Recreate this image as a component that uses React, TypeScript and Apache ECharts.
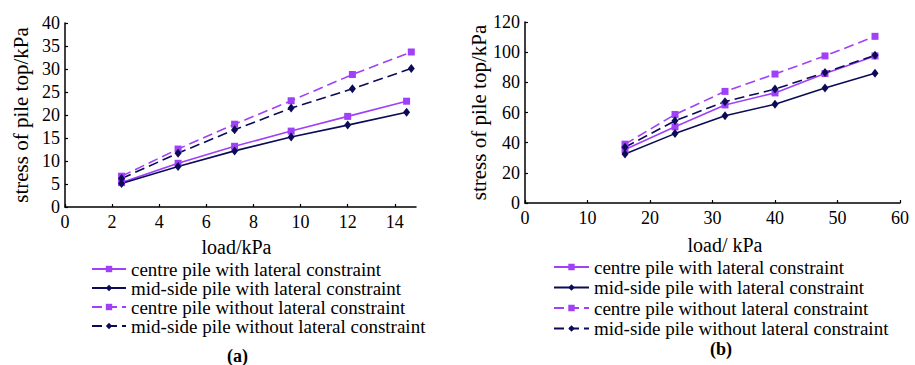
import React, { useEffect, useRef } from "react";
import * as echarts from "echarts";

const seriesNames = [
  "centre pile with lateral constraint",
  "mid-side pile with lateral constraint",
  "centre pile without lateral constraint",
  "mid-side pile without lateral constraint",
];

// Chart (a)
const loadA_solid = [2.4, 4.8, 7.2, 9.6, 12, 14.5];
const loadA_dashed = [2.4, 4.8, 7.2, 9.6, 12.2, 14.7];
const a_centreWith = [5.3, 9.5, 13.2, 16.5, 19.7, 23.0];
const a_midWith = [5.1, 8.8, 12.2, 15.2, 17.8, 20.6];
const a_centreWithout = [6.7, 12.6, 18.0, 23.1, 28.8, 33.7];
const a_midWithout = [6.2, 11.7, 16.8, 21.5, 25.7, 30.1];
const a_xTicks = [0, 2, 4, 6, 8, 10, 12, 14];

// Chart (b)
const loadB = [16, 24, 32, 40, 48, 56];
const b_centreWith = [35.5, 50.5, 65, 73, 85.8, 97.5];
const b_midWith = [32.5, 46, 57.8, 65.5, 76.3, 86];
const b_centreWithout = [39, 58.7, 74, 85.5, 97.5, 110.5];
const b_midWithout = [37, 54.5, 67.2, 75.5, 86.5, 98];

const PURPLE = "#A040F8";
const NAVY = "#0B0B58";
const FONT = "'Liberation Serif', 'Times New Roman', serif";

const zip = (xs: number[], ys: number[]) => xs.map((x, i) => [x, ys[i]]);

function mkSeries(name: string, idx: number, data: number[][], purple: boolean, dashed: boolean) {
  return {
    name,
    type: "line",
    xAxisIndex: idx,
    yAxisIndex: idx,
    data,
    symbol: purple ? "rect" : "diamond",
    symbolSize: purple ? 7 : [7, 9],
    showSymbol: true,
    color: purple ? PURPLE : NAVY,
    itemStyle: { color: purple ? PURPLE : NAVY },
    lineStyle: {
      color: purple ? PURPLE : NAVY,
      width: 1.6,
      type: dashed ? [10, 5] : "solid",
    },
  };
}

const axisCommon = {
  axisLine: { show: true, lineStyle: { color: "#000", width: 1.5 } },
  axisTick: { show: true, inside: true, length: 3, lineStyle: { color: "#000", width: 1.2 } },
  splitLine: { show: false },
  nameTextStyle: { fontFamily: FONT, fontSize: 20, color: "#000" },
};

export default function App() {
  const ref = useRef<HTMLDivElement>(null);
  useEffect(() => {
    if (!ref.current) return;
    const chart = echarts.init(ref.current, null, { renderer: "svg" });
    const labelStyle = { fontFamily: FONT, fontSize: 18, color: "#000" };
    const legendText = { fontFamily: FONT, fontSize: 19, lineHeight: 19, color: "#000" };
    chart.setOption({
      animation: false,
      textStyle: { fontFamily: FONT },
      grid: [
        { left: 65, top: 23, width: 351, height: 184 },
        { left: 525, top: 22, width: 375, height: 181 },
      ],
      xAxis: [
        {
          ...axisCommon,
          gridIndex: 0,
          type: "value",
          min: 0,
          max: 14.9,
          interval: 2,
          name: "load/kPa",
          nameLocation: "middle",
          nameGap: 30,
          nameTextStyle: { ...axisCommon.nameTextStyle, padding: [0, 8, 0, 0] },
          axisTick: { ...axisCommon.axisTick, customValues: a_xTicks },
          axisLabel: { ...labelStyle, margin: 6, customValues: a_xTicks },
        },
        {
          ...axisCommon,
          gridIndex: 1,
          type: "value",
          min: 0,
          max: 60,
          interval: 10,
          name: "load/ kPa",
          nameLocation: "middle",
          nameGap: 32,
          nameTextStyle: { ...axisCommon.nameTextStyle, padding: [0, 0, 0, 25] },
          axisLabel: { ...labelStyle, margin: 6 },
        },
      ],
      yAxis: [
        {
          ...axisCommon,
          gridIndex: 0,
          type: "value",
          min: 0,
          max: 40,
          interval: 5,
          name: "stress of pile top/kPa",
          nameLocation: "middle",
          nameGap: 34,
          nameTextStyle: { ...axisCommon.nameTextStyle, fontSize: 21 },
          axisLabel: { ...labelStyle, margin: 5 },
        },
        {
          ...axisCommon,
          gridIndex: 1,
          type: "value",
          min: 0,
          max: 120,
          interval: 20,
          name: "stress of pile top/kPa",
          nameLocation: "middle",
          nameGap: 34,
          nameTextStyle: { ...axisCommon.nameTextStyle, fontSize: 21 },
          axisLabel: { ...labelStyle, margin: 5 },
        },
      ],
      legend: [
        {
          orient: "vertical",
          left: 86,
          top: 254.5,
          itemWidth: 34,
          itemHeight: 8,
          itemGap: 0,
          selectedMode: false,
          textStyle: legendText,
          data: seriesNames,
        },
        {
          orient: "vertical",
          left: 548,
          top: 252.5,
          itemWidth: 35,
          itemHeight: 8,
          itemGap: 1.5,
          selectedMode: false,
          textStyle: legendText,
          data: seriesNames,
        },
      ],
      graphic: [
        {
          type: "text",
          left: 227,
          top: 347,
          style: { text: "(a)", fontFamily: FONT, fontSize: 18, fontWeight: "bold", fill: "#000" },
        },
        {
          type: "text",
          left: 710,
          top: 340,
          style: { text: "(b)", fontFamily: FONT, fontSize: 18, fontWeight: "bold", fill: "#000" },
        },
      ],
      series: [
        mkSeries(seriesNames[0], 0, zip(loadA_solid, a_centreWith), true, false),
        mkSeries(seriesNames[1], 0, zip(loadA_solid, a_midWith), false, false),
        mkSeries(seriesNames[2], 0, zip(loadA_dashed, a_centreWithout), true, true),
        mkSeries(seriesNames[3], 0, zip(loadA_dashed, a_midWithout), false, true),
        mkSeries(seriesNames[0], 1, zip(loadB, b_centreWith), true, false),
        mkSeries(seriesNames[1], 1, zip(loadB, b_midWith), false, false),
        mkSeries(seriesNames[2], 1, zip(loadB, b_centreWithout), true, true),
        mkSeries(seriesNames[3], 1, zip(loadB, b_midWithout), false, true),
      ],
    });
    return () => chart.dispose();
  }, []);
  return (
    <div
      ref={ref}
      style={{ position: "fixed", left: 0, top: 0, width: 915, height: 365, background: "#fff" }}
    />
  );
}
